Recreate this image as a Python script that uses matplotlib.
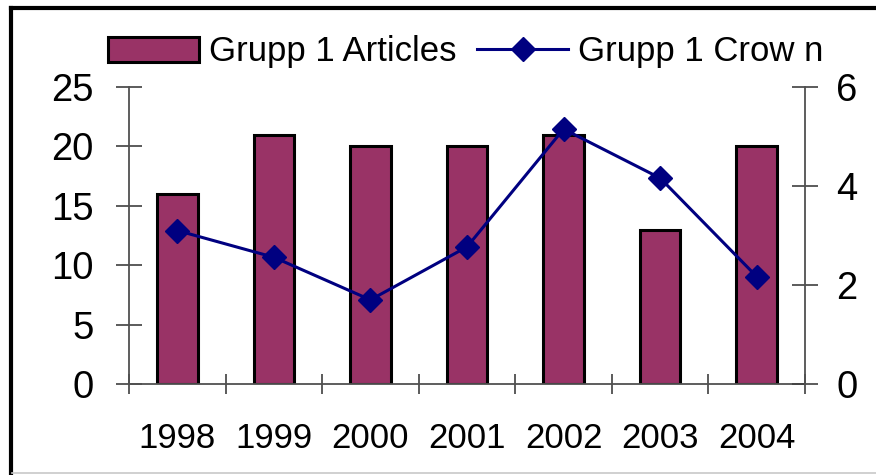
import matplotlib
matplotlib.use("Agg")
import matplotlib.pyplot as plt
from matplotlib.lines import Line2D

# 数据
years = ["1998", "1999", "2000", "2001", "2002", "2003", "2004"]
articles = [16, 21, 20, 20, 21, 13, 20]
crown = [3.1, 2.56, 1.7, 2.77, 5.15, 4.16, 2.17]

plt.rcParams["font.family"] = ["Liberation Sans", "DejaVu Sans"]

fig = plt.figure(figsize=(8.76, 4.75), dpi=100)
ax = fig.add_axes([129 / 876, 1 - 384 / 475, (805 - 129) / 876, (384 - 87) / 475])
ax2 = ax.twinx()

x = list(range(len(years)))
bars = ax.bar(x, articles, width=0.42, color="#993366", edgecolor="black",
              linewidth=2.2, label="Grupp 1 Articles", zorder=2)
line, = ax2.plot(x, crown, color="#000080", linewidth=2.2, marker="D",
                 markersize=12, markerfacecolor="#000080",
                 markeredgecolor="#000080", label="Grupp 1 Crow n", zorder=3)

ax.set_xlim(-0.5, len(years) - 0.5)
ax.set_ylim(0, 25)
ax2.set_ylim(0, 6)
ax.set_yticks([0, 5, 10, 15, 20, 25])
ax2.set_yticks([0, 2, 4, 6])

# x 轴：刻度在类别边界，标签在中间
ax.set_xticks([i - 0.5 for i in range(len(years) + 1)])
ax.set_xticklabels([])
ax.set_xticks(x, minor=True)
ax.set_xticklabels(years, minor=True)
ax.tick_params(axis="x", which="major", direction="inout", length=15,
               width=1.2, color="#404040")
ax.tick_params(axis="x", which="minor", length=0, pad=27, labelsize=25)

ax.tick_params(axis="y", direction="inout", length=19, width=1.2,
               color="#404040", pad=16, labelsize=27.5)
ax2.tick_params(axis="y", direction="inout", length=19, width=1.2,
                color="#404040", pad=13, labelsize=27.5)

for a in (ax, ax2):
    a.spines["top"].set_visible(False)
    for s in ("left", "right", "bottom"):
        a.spines[s].set_color("#505050")
        a.spines[s].set_linewidth(1.3)
ax.spines["right"].set_visible(False)
ax2.spines["left"].set_visible(False)
ax2.spines["bottom"].set_visible(False)

ax2.set_zorder(ax.get_zorder() + 1)
ax2.patch.set_visible(False)

fig.legend(handles=[bars, line], loc="center",
           bbox_to_anchor=(466 / 876, 1 - 52 / 475), ncol=2, frameon=False,
           fontsize=25, handlelength=2.6, handleheight=0.7,
           handletextpad=0.3, columnspacing=0.6, borderpad=0)

# 外框
fig.add_artist(Line2D([10.5 / 876, 1], [1 - 8 / 475, 1 - 8 / 475],
                      transform=fig.transFigure, color="black", linewidth=3))
fig.add_artist(Line2D([10.5 / 876, 10.5 / 876], [1 - 8 / 475, 0],
                      transform=fig.transFigure, color="black", linewidth=3))
fig.add_artist(Line2D([12 / 876, 1], [1 - 473 / 475, 1 - 473 / 475],
                      transform=fig.transFigure, color="#c8c8c8", linewidth=1.2))

fig.savefig("out.png", dpi=100)
